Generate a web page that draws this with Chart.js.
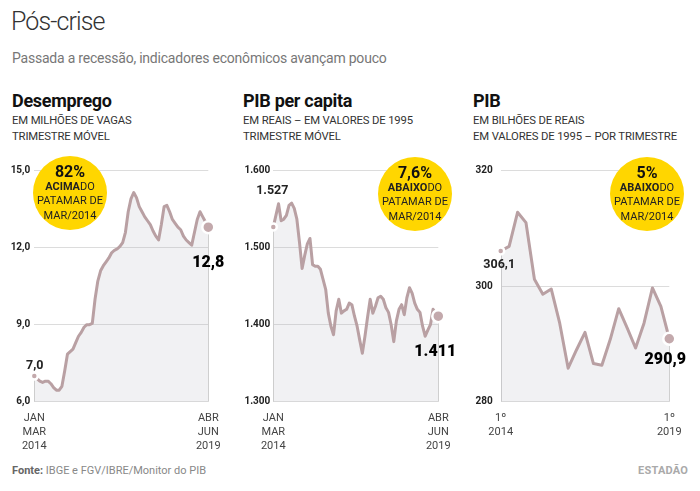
<!DOCTYPE html>
<html lang="pt-BR">
<head>
<meta charset="utf-8">
<title>Pós-crise</title>
<script src="https://cdn.jsdelivr.net/npm/chart.js"></script>
<style>
    body { margin: 0; width: 700px; height: 491px; background: #fff; position: relative; overflow: hidden;
           font-family: Roboto, "Noto Sans", sans-serif; color: #222; }
    .abs { position: absolute; white-space: nowrap; }
    #titulo { left: 11px; top: 7px; font-size: 25px; line-height: 30px; font-weight: 300; color: #333; letter-spacing: -0.9px; }
    #subtitulo { left: 12px; top: 50px; font-size: 14px; line-height: 16px; color: #777; letter-spacing: -0.22px; }
    .painel-titulo { top: 90px; font-size: 18px; line-height: 21px; font-weight: 700; color: #111; letter-spacing: -0.3px; }
    .painel-sub { top: 113px; font-size: 11.3px; line-height: 16px; color: #333; letter-spacing: -0.15px; }
    .grafico { position: absolute; top: 150px; height: 300px; }
    .selo { position: absolute; width: 74px; height: 74px; border-radius: 50%; background: #ffd600;
            text-align: center; font-size: 11px; line-height: 14.7px; color: #222; box-sizing: border-box; padding-top: 9px; }
    .selo .pct { font-size: 16px; font-weight: 700; color: #111; }
    #fonte { left: 12px; top: 464px; font-size: 11px; line-height: 14px; color: #888; }
    #fonte b { color: #666; }
    #logo { right: 12px; top: 464px; font-size: 11px; line-height: 14px; color: #aaa; font-weight: 700; letter-spacing: 0.2px; }
</style>
</head>
<body>

<div id="titulo" class="abs">Pós-crise</div>
<div id="subtitulo" class="abs">Passada a recessão, indicadores econômicos avançam pouco</div>

<div class="abs painel-titulo" style="left:12px">Desemprego</div>
<div class="abs painel-sub" style="left:12px">EM MILHÕES DE VAGAS<br>TRIMESTRE MÓVEL</div>
<div class="abs painel-titulo" style="left:243px">PIB per capita</div>
<div class="abs painel-sub" style="left:243px">EM REAIS – EM VALORES DE 1995<br>TRIMESTRE MÓVEL</div>
<div class="abs painel-titulo" style="left:473px">PIB</div>
<div class="abs painel-sub" style="left:473px">EM BILHÕES DE REAIS<br>EM VALORES DE 1995 – POR TRIMESTRE</div>

<div class="grafico" style="left:0;width:225px"><canvas id="graficoDesemprego"></canvas></div>
<div class="grafico" style="left:230px;width:225px"><canvas id="graficoPibPerCapita"></canvas></div>
<div class="grafico" style="left:460px;width:240px"><canvas id="graficoPib"></canvas></div>

<div class="selo" style="left:33px;top:156px"><div class="pct">82%</div><div><b>ACIMA</b>DO</div><div>PATAMAR DE</div><div>MAR/2014</div></div>
<div class="selo" style="left:378px;top:157px"><div class="pct">7,6%</div><div><b>ABAIXO</b>DO</div><div>PATAMAR DE</div><div>MAR/2014</div></div>
<div class="selo" style="left:610px;top:157px"><div class="pct">5%</div><div><b>ABAIXO</b>DO</div><div>PATAMAR DE</div><div>MAR/2014</div></div>

<div id="fonte" class="abs"><b>Fonte:</b> IBGE e FGV/IBRE/Monitor do PIB</div>
<div id="logo" class="abs">ESTADÃO</div>

<script>
// Dados
var meses = ['JAN', 'FEV', 'MAR', 'ABR', 'MAI', 'JUN', 'JUL', 'AGO', 'SET', 'OUT', 'NOV', 'DEZ'];

// desemprego, em milhões (trimestre móvel, jan-mar/2014 a abr-jun/2019)
var desemprego = [
    7.0, 6.9, 6.8, 6.75, 6.8, 6.8, 6.7, 6.55, 6.45, 6.45, 6.6, 7.2,
    7.85, 7.95, 8.05, 8.3, 8.55, 8.7, 8.9, 9.0, 9.0, 9.05, 10.0, 10.7,
    11.1, 11.3, 11.45, 11.6, 11.8, 11.9, 11.95, 12.05, 12.2, 12.6, 13.4, 13.9,
    14.15, 13.95, 13.6, 13.4, 13.2, 13.05, 12.9, 12.65, 12.45, 12.3, 12.9, 13.6,
    13.65, 13.4, 13.1, 12.95, 12.8, 12.7, 12.45, 12.3, 12.2, 12.1, 12.6, 13.1,
    13.4, 13.2, 13.0, 12.8
];

// PIB per capita, em reais de 1995 (trimestre móvel)
var pibPerCapita = [
    1527, 1542, 1557, 1535, 1537, 1542, 1555, 1558, 1551, 1537, 1507, 1473,
    1490, 1505, 1512, 1478, 1476, 1476, 1472, 1459, 1446, 1415, 1398, 1387,
    1418, 1433, 1415, 1418, 1420, 1428, 1426, 1411, 1398, 1380, 1363, 1385,
    1410, 1433, 1415, 1424, 1435, 1437, 1433, 1422, 1416, 1400, 1378, 1405,
    1420, 1426, 1413, 1435, 1448, 1441, 1428, 1420, 1416, 1398, 1385, 1393,
    1400, 1420, 1415, 1411
];

// PIB, em bilhões de reais de 1995 (1º tri/2014 a 1º tri/2019)
var pib = [
    306.1, 306.9, 312.8, 311.0, 301.2, 298.6, 299.5, 293.6, 285.8, 289.0, 292.0,
    286.6, 286.3, 290.8, 296.1, 292.8, 289.3, 293.6, 299.7, 296.5, 290.9
];

// rótulos do eixo x
var rotuloInicioMensal = ['JAN', 'MAR', '2014'];
var rotuloFimMensal = ['ABR', 'JUN', '2019'];
var rotuloInicioTrimestre = ['1º', '2014'];
var rotuloFimTrimestre = ['1º', '2019'];

// categorias
var periodosMensais = [];
for (var i = 0; i < desemprego.length; i++) {
    var m = i % 12;
    var ano = 2014 + Math.floor(i / 12);
    periodosMensais.push(meses[m] + '-' + meses[(m + 2) % 12] + ' ' + (m + 2 > 11 ? ano + 1 : ano));
}
var trimestres = [];
for (var j = 0; j < pib.length; j++) {
    trimestres.push((j % 4 + 1) + 'º ' + (2014 + Math.floor(j / 4)));
}

(function () {

    var corLinha = '#b9a0a3';
    var corPonto = '#c3a9ac';

    function virgula(v, casas) {
        return v.toFixed(casas).replace('.', ',');
    }

    function milhar(v) {
        var s = String(Math.round(v));
        return s.length > 3 ? s.slice(0, s.length - 3) + '.' + s.slice(-3) : s;
    }

    // bordas verticais da área e valores do primeiro/último ponto
    function pluginRotulos(formato, inicio, fim) {
        return {
            id: 'rotulosExtremos',
            beforeDatasetsDraw: function (chart) {
                var pts = chart.getDatasetMeta(0).data;
                var ctx = chart.ctx;
                var base = chart.chartArea.bottom;
                ctx.save();
                ctx.strokeStyle = '#cfcfcf';
                ctx.lineWidth = 1;
                [pts[0], pts[pts.length - 1]].forEach(function (p) {
                    var x = Math.round(p.x) + 0.5;
                    ctx.beginPath();
                    ctx.moveTo(x, p.y);
                    ctx.lineTo(x, base);
                    ctx.stroke();
                });
                ctx.restore();
            },
            afterDatasetsDraw: function (chart) {
                var pts = chart.getDatasetMeta(0).data;
                var dados = chart.data.datasets[0].data;
                var ctx = chart.ctx;
                ctx.save();
                ctx.textAlign = 'center';
                ctx.textBaseline = 'middle';
                [[0, inicio], [dados.length - 1, fim]].forEach(function (par) {
                    var p = pts[par[0]];
                    var c = par[1];
                    ctx.font = c.fonte;
                    ctx.fillStyle = c.cor;
                    ctx.fillText(formato(dados[par[0]]), p.x + c.dx, p.y + c.dy);
                });
                ctx.restore();
            }
        };
    }

    function criarGrafico(id, rotulos, valores, cfg) {
        var ultimo = valores.length - 1;
        var ctx = document.getElementById(id).getContext('2d');
        return new Chart(ctx, {
            type: 'line',
            data: {
                labels: rotulos,
                datasets: [{
                    data: valores,
                    borderColor: corLinha,
                    borderWidth: 3,
                    borderJoinStyle: 'round',
                    borderCapStyle: 'round',
                    tension: 0,
                    fill: 'start',
                    backgroundColor: 'rgba(175,175,190,0.18)',
                    pointRadius: function (c) {
                        return c.dataIndex === 0 ? 3.5 : (c.dataIndex === ultimo ? 6 : 0);
                    },
                    pointBackgroundColor: corPonto,
                    pointBorderColor: '#fff',
                    pointBorderWidth: 2.5,
                    clip: false
                }]
            },
            options: {
                responsive: true,
                maintainAspectRatio: false,
                animation: false,
                events: [],
                layout: { padding: { top: 20.7, right: cfg.direita, bottom: 0, left: 0 } },
                plugins: {
                    legend: { display: false },
                    tooltip: { enabled: false }
                },
                scales: {
                    x: {
                        grid: { display: false },
                        border: { display: false },
                        ticks: {
                            autoSkip: false,
                            maxRotation: 0,
                            padding: 2,
                            color: '#444',
                            font: { family: 'Roboto', size: 11, lineHeight: 1.25 },
                            callback: function (v, i) {
                                return i === 0 ? cfg.xInicio : (i === ultimo ? cfg.xFim : '');
                            }
                        },
                        afterFit: function (s) { s.height = 48.3; }
                    },
                    y: {
                        min: cfg.min,
                        max: cfg.max,
                        grid: { color: '#dcdcdc', drawTicks: false },
                        border: { display: false },
                        ticks: {
                            stepSize: cfg.passo,
                            padding: cfg.recuo,
                            color: '#222',
                            font: { family: 'Roboto', size: 10, weight: 'bold' },
                            callback: cfg.formatoY
                        },
                        afterFit: function (s) { s.width = cfg.largura; }
                    }
                }
            },
            plugins: [pluginRotulos(cfg.formato, cfg.inicio, cfg.fim)]
        });
    }

    var fonteInicio = 'bold 12.5px Roboto';
    var fonteFim = '900 16px Roboto';

    criarGrafico('graficoDesemprego', periodosMensais, desemprego, {
        min: 6, max: 15, passo: 3, largura: 34.3, direita: 16.7, recuo: 4,
        formatoY: function (v) { return virgula(v, 1); },
        formato: function (v) { return virgula(v, 1); },
        xInicio: rotuloInicioMensal, xFim: rotuloFimMensal,
        inicio: { dx: 0.5, dy: -10, fonte: fonteInicio, cor: '#222' },
        fim: { dx: 0, dy: 36, fonte: fonteFim, cor: '#000' }
    });

    criarGrafico('graficoPibPerCapita', periodosMensais, pibPerCapita, {
        min: 1300, max: 1600, passo: 100, largura: 43.3, direita: 16.7, recuo: 3,
        formatoY: milhar,
        formato: milhar,
        xInicio: rotuloInicioMensal, xFim: rotuloFimMensal,
        inicio: { dx: -1, dy: -36, fonte: fonteInicio, cor: '#222' },
        fim: { dx: -3, dy: 36, fonte: fonteFim, cor: '#000' }
    });

    criarGrafico('graficoPib', trimestres, pib, {
        min: 280, max: 320, passo: 20, largura: 40.7, direita: 30.7, recuo: 8,
        formatoY: function (v) { return String(v); },
        formato: function (v) { return virgula(v, 1); },
        xInicio: rotuloInicioTrimestre, xFim: rotuloFimTrimestre,
        inicio: { dx: -1.5, dy: 14, fonte: fonteInicio, cor: '#222' },
        fim: { dx: -4, dy: 21, fonte: fonteFim, cor: '#000' }
    });

})();
</script>
</body>
</html>
